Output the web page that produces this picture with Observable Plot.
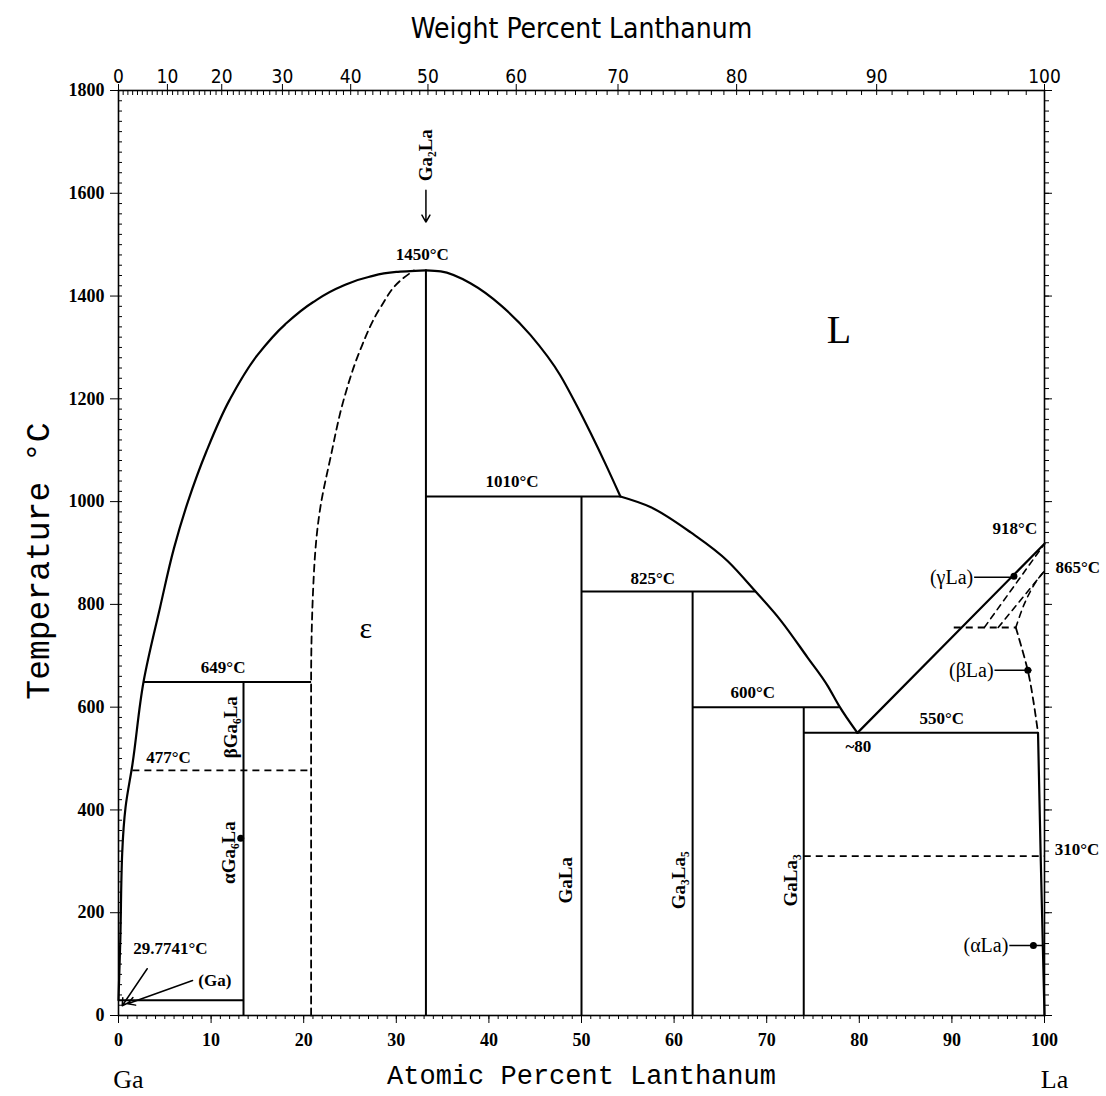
<!DOCTYPE html>
<html><head><meta charset="utf-8">
<script src="https://cdn.jsdelivr.net/npm/d3@7"></script>
<script src="https://cdn.jsdelivr.net/npm/@observablehq/plot@0.6"></script>
<style>body{margin:0;background:#fff}</style>
</head><body><div id="chart"></div>
<script>
// ---- tick labels ----
const atTicks = [0,10,20,30,40,50,60,70,80,90,100];
const wtTicks = [0,10,20,30,40,50,60,70,80,90,100];
const tempTicks = [0,200,400,600,800,1000,1200,1400,1600,1800];
const massGa = 69.723, massLa = 138.905;
const wtToAt = w => 100*(w/massLa)/((w/massLa)+((100-w)/massGa));
const atToWt = a => 100*a*massLa/(a*massLa+(100-a)*massGa);

// ---- phase boundaries (at% La, °C) ----
const liquidusGa = [[0,29.77],[0.2,150],[0.4,316],[0.76,405],[1.5,488],[2.7,649],[4.5,795],[6.0,910],[7.5,1000],[9.5,1098],[12.0,1198],[15.0,1285],[18.0,1345],[21.0,1388],[24.0,1418],[27.0,1437],[30.0,1447],[33.2,1450]];
const liquidusGa2La = [[33.2,1450],[34.8,1448],[38.0,1425],[41.3,1382],[44.5,1324],[47.7,1246],[49.4,1190],[51.0,1133],[52.6,1073],[54.2,1010]];
const liquidusGaLa = [[54.2,1010],[57.5,989],[61.8,940],[65.8,884],[68.8,825],[71.5,769],[74.4,697],[76.6,641],[77.8,603],[79.8,550]];
const liquidusLa = [[79.8,550],[100,918]];
const epsilonBoundary = [[20.8,0],[20.8,649],[21.1,860],[21.8,989],[22.9,1086],[24.3,1197],[26.1,1295],[28.3,1378],[30.5,1431],[31.9,1450]];
const gammaSolidus = [[93.5,755],[100,918]];
const gammaSolvus = [[95.0,755],[100,865]];
const betaUpper = [[96.9,755],[97.8,800],[99.0,842],[100,865]];
const betaLower = [[96.9,755],[98.2,671],[98.8,612],[99.3,550]];
const alphaSolvus = [[99.3,550],[99.6,300],[100,0]];

// solid isotherms and compound lines: [x1,T1,x2,T2]
const solidSegs = [
  [0,29.77,13.5,29.77],[2.7,649,20.8,649],[13.5,0,13.5,649],
  [33.2,0,33.2,1450],[33.2,1010,54.2,1010],[50,0,50,1010],
  [50,825,68.8,825],[62,0,62,825],[62,600,77.8,600],
  [74,0,74,600],[74,550,99.3,550]
];
const dashedSegs = [[1.5,477,20.8,477],[74,310,100,310],[90.2,755,96.9,755]];

// ---- annotations ----
const tempLabels = [
  {x:32.8,y:1480,t:"1450°C"},{x:42.5,y:1040,t:"1010°C"},{x:57.7,y:851,t:"825°C"},
  {x:68.5,y:629,t:"600°C"},{x:88.9,y:578,t:"550°C"},{x:79.9,y:524,t:"~80"},
  {x:11.3,y:678,t:"649°C"},{x:5.4,y:502,t:"477°C"},{x:5.6,y:130,t:"29.7741°C"},
  {x:10.4,y:68,t:"(Ga)"},{x:96.8,y:948,t:"918°C"},{x:103.6,y:872,t:"865°C"},{x:103.5,y:323,t:"310°C"}
];
const phaseLabels = [
  {x:92.3,y:853,t:"(γLa)"},{x:94.5,y:672,t:"(βLa)"},{x:96.1,y:136,t:"(αLa)"}
];
const leaders = [[92.4,853,96.7,853],[94.6,672,98.6,672],[96.2,136,99.9,136]];
const dots = [[96.7,855],[98.2,672],[98.8,136],[13.2,345]];
const compounds = [
  {x:33.2,y:1674,t:"Ga₂La"},{x:48.3,y:263,t:"GaLa"},{x:60.5,y:263,t:"Ga₃La₅"},
  {x:72.6,y:263,t:"GaLa₃"},{x:11.9,y:317,t:"αGa₆La"},{x:12.1,y:561,t:"βGa₆La"}
];
const arrows = [[33.2,1606,33.2,1544],[3.1,91,0.4,19],[8.0,68,1.0,23]];
const regionLabels = [{x:77.8,y:1334,t:"L",s:40},{x:26.7,y:753,t:"ε",s:30}];

const seg = a => ({x1:a[0],y1:a[1],x2:a[2],y2:a[3]});
const serif = "Liberation Serif";
const emptyFmt = () => "";

const chart = Plot.plot({
  width: 1106, height: 1096,
  marginLeft: 118, marginRight: 62, marginTop: 90, marginBottom: 81,
  x: {domain:[0,100]},
  y: {domain:[0,1800]},
  style: {background:"white", color:"black", fontFamily: serif, overflow:"visible"},
  marks: [
    // axes
    Plot.axisX({anchor:"bottom", ticks: atTicks, tickSize: 8, tickPadding: 10, tickFormat: d => String(d), fontSize: 18, fontWeight:"bold", fontFamily: serif, label: null}),
    Plot.axisX({anchor:"bottom", ticks: d3.range(0,101,1), tickSize: 4, tickFormat: emptyFmt, label: null}),
    Plot.axisX({anchor:"top", ticks: wtTicks.map(wtToAt), tickSize: 7, tickPadding: 1, tickFormat: d => String(Math.round(atToWt(d))), fontSize: 19, fontFamily:"DejaVu Sans Condensed", label: null}),
    Plot.axisX({anchor:"top", ticks: d3.range(0,101,1).map(wtToAt), tickSize: -4, tickFormat: emptyFmt, label: null}),
    Plot.axisY({anchor:"left", ticks: tempTicks, tickSize: 8, tickPadding: 6, tickFormat: d => String(d), fontSize: 18, fontWeight:"bold", fontFamily: serif, label: null}),
    Plot.axisY({anchor:"left", ticks: d3.range(0,1801,20), tickSize: -4, tickFormat: emptyFmt, label: null}),
    Plot.axisY({anchor:"right", ticks: d3.range(0,1801,20), tickSize: 4, tickFormat: emptyFmt, label: null}),
    Plot.axisY({anchor:"right", ticks: tempTicks, tickSize: 7, tickFormat: emptyFmt, label: null}),
    Plot.frame({strokeWidth: 1.6}),
    // phase boundaries
    Plot.line(liquidusGa, {curve:"monotone-y", strokeWidth: 2.2}),
    Plot.line(liquidusGa2La, {curve:"monotone-x", strokeWidth: 2.2}),
    Plot.line(liquidusGaLa, {curve:"monotone-x", strokeWidth: 2.2}),
    Plot.line(liquidusLa, {strokeWidth: 2.2}),
    Plot.line(alphaSolvus, {curve:"monotone-x", strokeWidth: 2.2}),
    Plot.line(epsilonBoundary, {curve:"monotone-y", strokeWidth: 1.8, strokeDasharray:"7,5"}),
    Plot.line(gammaSolidus, {strokeWidth: 1.6, strokeDasharray:"6,5"}),
    Plot.line(gammaSolvus, {strokeWidth: 1.6, strokeDasharray:"6,5"}),
    Plot.line(betaUpper, {curve:"catmull-rom", strokeWidth: 1.6, strokeDasharray:"6,5"}),
    Plot.line(betaLower, {curve:"catmull-rom", strokeWidth: 1.8, strokeDasharray:"7,5"}),
    Plot.link(solidSegs.map(seg), {x1:"x1", y1:"y1", x2:"x2", y2:"y2", strokeWidth: 2}),
    Plot.link(dashedSegs.map(seg), {x1:"x1", y1:"y1", x2:"x2", y2:"y2", strokeWidth: 1.8, strokeDasharray:"7,5"}),
    Plot.link(leaders.map(seg), {x1:"x1", y1:"y1", x2:"x2", y2:"y2", strokeWidth: 1.5}),
    Plot.arrow(arrows.map(seg), {x1:"x1", y1:"y1", x2:"x2", y2:"y2", strokeWidth: 1.5, headLength: 8}),
    Plot.dot(dots, {r: 3.5, fill: "black"}),
    // labels
    Plot.text(tempLabels, {x:"x", y:"y", text:"t", fontSize: 17, fontWeight:"bold", fontFamily: serif}),
    Plot.text(phaseLabels, {x:"x", y:"y", text:"t", fontSize: 20, fontFamily: serif, textAnchor:"end"}),
    Plot.text(compounds, {x:"x", y:"y", text:"t", fontSize: 19, fontWeight:"bold", fontFamily: serif, rotate: -90}),
    Plot.text(regionLabels, {x:"x", y:"y", text:"t", fontSize:"s", fontFamily: serif}),
    // axis titles
    Plot.text(["Weight Percent Lanthanum"], {frameAnchor:"top", dy:-72, fontSize: 28, fontFamily:"DejaVu Sans Condensed"}),
    Plot.text(["Atomic Percent Lanthanum"], {frameAnchor:"bottom", dy: 68, fontSize: 27, fontFamily:"Liberation Mono"}),
    Plot.text(["Temperature °C"], {frameAnchor:"left", textAnchor:"middle", dx:-80, dy: 8, rotate:-90, fontSize: 33, fontFamily:"Liberation Mono"}),
    Plot.text([{x:0,t:"Ga"},{x:100,t:"La"}], {x:"x", text:"t", frameAnchor:"bottom", dy: 72, dx: 10, fontSize: 26, fontFamily: serif})
  ]
});
document.getElementById("chart").appendChild(chart);
</script>
</body></html>
